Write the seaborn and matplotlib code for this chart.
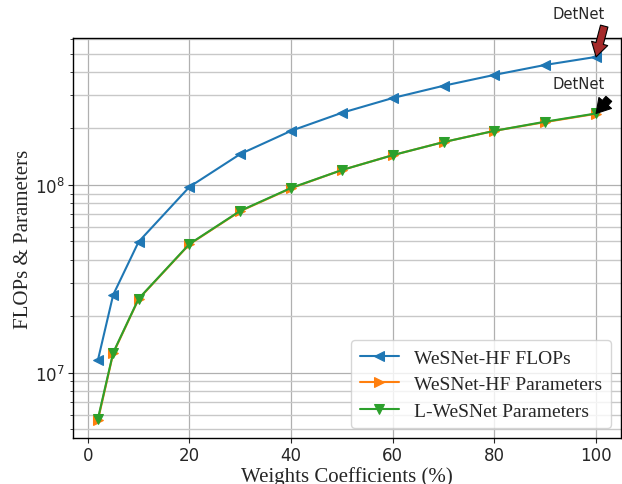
import matplotlib
matplotlib.use("Agg")
import matplotlib.pyplot as plt
import seaborn as sns
import pandas as pd
from matplotlib.ticker import LogLocator, NullFormatter

weights = [2, 5, 10, 20, 30, 40, 50, 60, 70, 80, 90, 100]
flops_hf = [1.17e7, 2.6e7, 4.98e7, 9.76e7, 1.46e8, 1.94e8, 2.42e8, 2.9e8, 3.37e8, 3.85e8, 4.35e8, 4.8e8]
params_hf = [5.6e6, 1.27e7, 2.47e7, 4.83e7, 7.25e7, 9.6e7, 1.2e8, 1.44e8, 1.69e8, 1.94e8, 2.16e8, 2.39e8]
params_l = [5.7e6, 1.28e7, 2.48e7, 4.85e7, 7.28e7, 9.64e7, 1.2e8, 1.44e8, 1.69e8, 1.94e8, 2.17e8, 2.4e8]
series_names = ["WeSNet-HF FLOPs", "WeSNet-HF Parameters", "L-WeSNet Parameters"]
annot_text = "DetNet"

sns.set_style("ticks")
plt.rcParams["font.family"] = ["DejaVu Sans"]

fig = plt.figure(figsize=(6.22, 4.85), dpi=100)
ax = fig.add_axes([0.1174, 0.0948, 0.881, 0.8248])

colors = sns.color_palette("tab10")
markers = ["<", ">", "v"]
for vals, name, c, m in zip([flops_hf, params_hf, params_l], series_names, colors, markers):
    df = pd.DataFrame({"x": weights, "y": vals})
    sns.lineplot(data=df, x="x", y="y", ax=ax, color=c, marker=m, markersize=7,
                 markeredgecolor=c, linewidth=1.5, label=name)

ax.set_yscale("log")
ax.set_xlim(-2.9, 104.9)
ax.set_ylim(4.5e6, 6.05e8)
ax.set_xticks([0, 20, 40, 60, 80, 100])
ax.yaxis.set_minor_locator(LogLocator(base=10, subs=range(2, 10)))
ax.yaxis.set_minor_formatter(NullFormatter())
ax.tick_params(axis="both", which="major", labelsize=12, direction="out", length=3.5, pad=2.5)
ax.tick_params(axis="y", which="minor", direction="out", length=2.5)
ax.grid(True, which="major", color="#b0b0b0", linewidth=0.9)
ax.grid(True, which="minor", axis="y", color="#c8c8c8", linewidth=1.0)
ax.set_axisbelow(True)
for s in ax.spines.values():
    s.set_color("black")
    s.set_linewidth(1.0)

serif = ["Liberation Serif", "DejaVu Serif"]
ax.set_xlabel("Weights Coefficients (%)", fontsize=15, family=serif, labelpad=1)
ax.set_ylabel("FLOPs & Parameters", fontsize=15, family=serif, labelpad=1)

leg = ax.legend(loc="lower right", prop={"family": serif, "size": 14}, frameon=True,
                fancybox=True, framealpha=0.8, edgecolor="#cccccc",
                borderpad=0.45, handlelength=2.0, labelspacing=0.45,
                borderaxespad=0.5)

ax.annotate("", xy=(weights[-1], flops_hf[-1]), xytext=(101.6, 7.0e8),
            arrowprops=dict(facecolor="#a52a2a", edgecolor="black", width=5.5,
                            headwidth=12, headlength=10, shrink=0.0, linewidth=0.8),
            annotation_clip=False)
ax.text(96.5, 8.2e8, annot_text, ha="center", va="center", fontsize=10.6, clip_on=False)
ax.annotate("", xy=(weights[-1], params_l[-1]), xytext=(102.5, 2.87e8),
            arrowprops=dict(facecolor="black", edgecolor="black", width=5.5,
                            headwidth=12, headlength=10, shrink=0.0, linewidth=0.8),
            annotation_clip=False)
ax.text(96.5, 3.45e8, annot_text, ha="center", va="center", fontsize=10.6, clip_on=False)

fig.savefig("out.png", dpi=100)
